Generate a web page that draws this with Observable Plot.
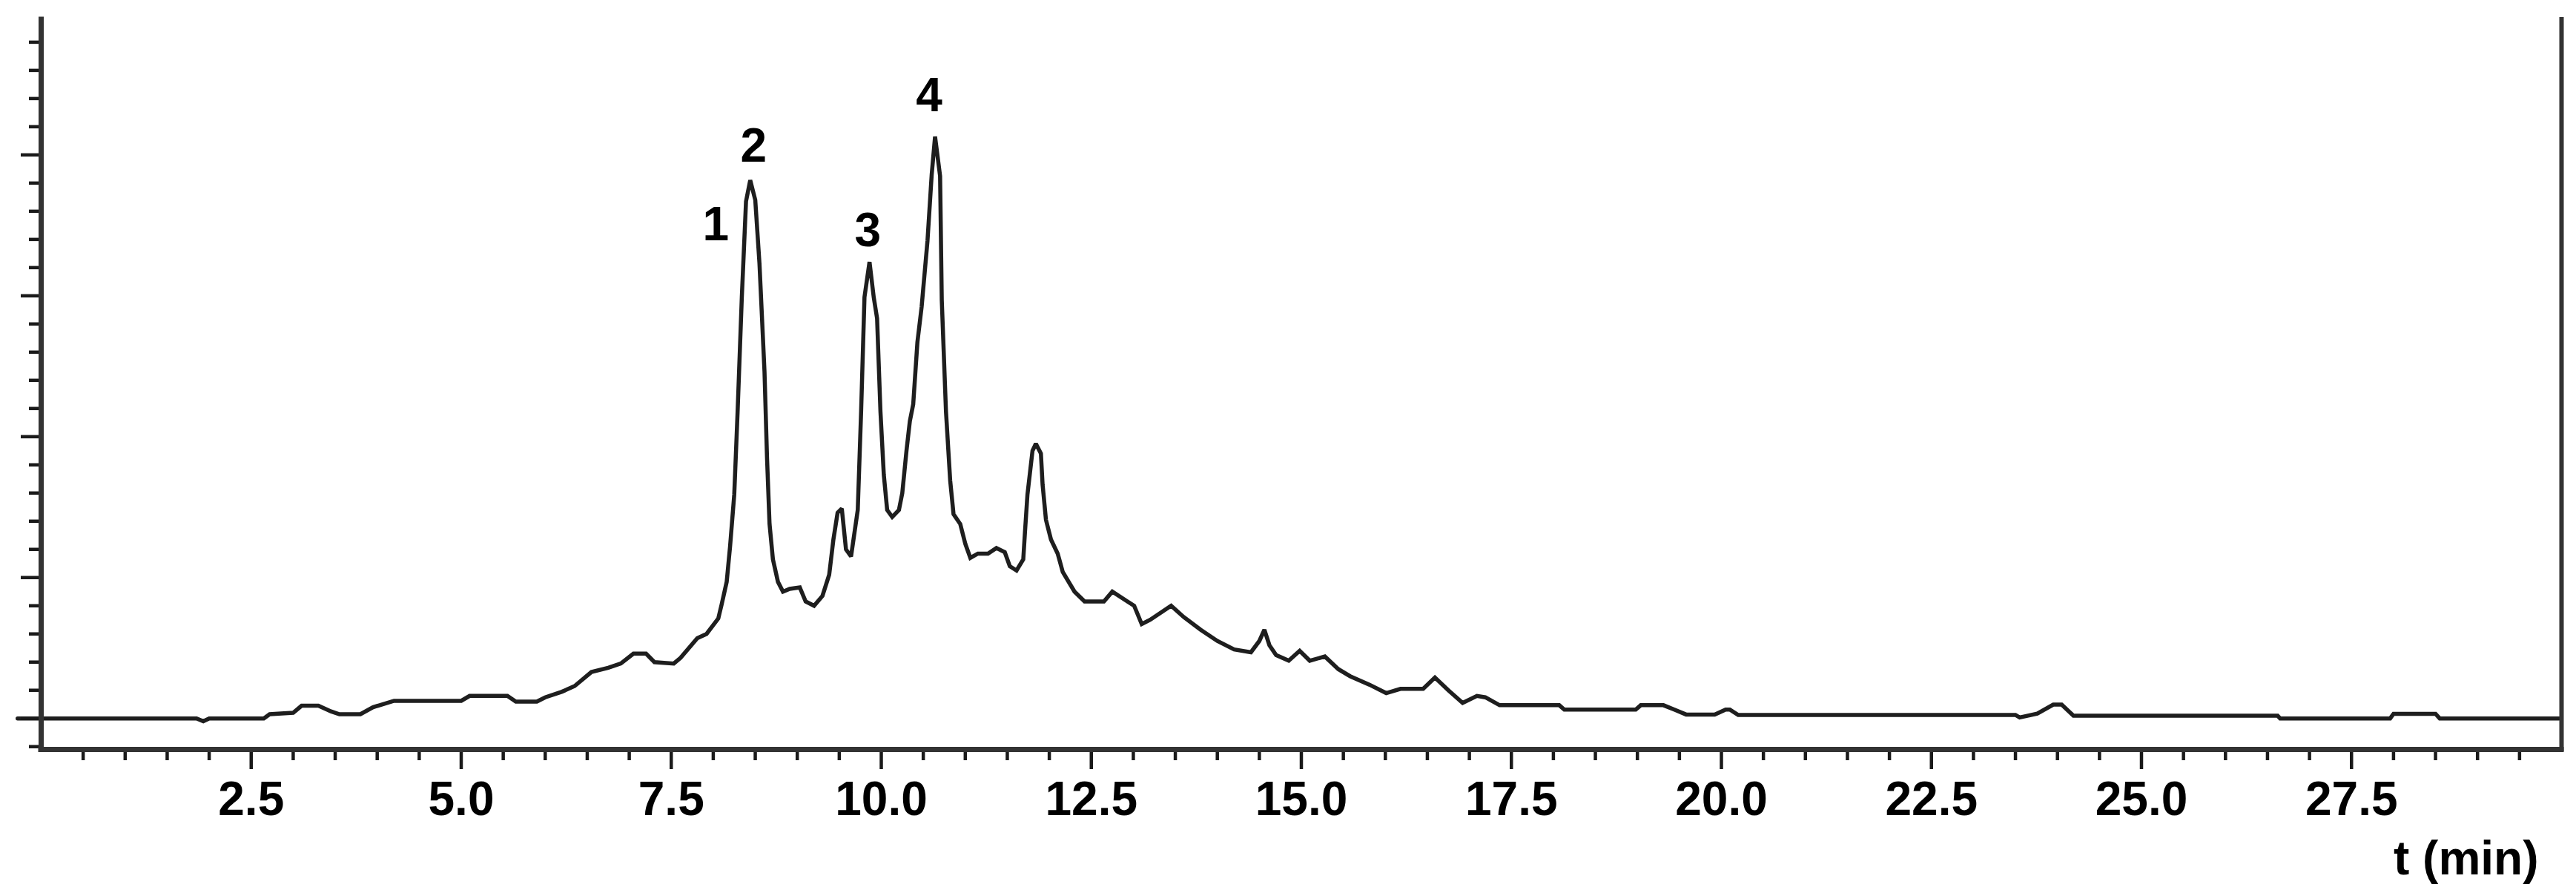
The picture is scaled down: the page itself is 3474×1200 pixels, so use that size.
<!DOCTYPE html>
<html>
<head>
<meta charset="utf-8">
<script src="https://cdn.jsdelivr.net/npm/d3@7"></script>
<script src="https://cdn.jsdelivr.net/npm/@observablehq/plot@0.6"></script>
<style>
  html, body { margin: 0; padding: 0; background: #fff; }
  #chart svg { display: block; }
</style>
</head>
<body>
<div id="chart"></div>
<script>
// Retention time (min) and detector signal (arbitrary units)
const times = [
  -0.28, 1.85, 1.93, 2.0, 2.65, 2.72, 3.0, 3.1, 3.3, 3.45, 3.55, 3.8, 3.95, 4.2, 5.0, 5.1, 5.55, 5.65, 5.9, 6.0,
  6.2, 6.35, 6.55, 6.75, 6.9, 7.05, 7.2, 7.3, 7.53, 7.61, 7.81, 7.92, 8.06, 8.1, 8.16, 8.2, 8.25, 8.29, 8.34, 8.39,
  8.44, 8.5, 8.55, 8.61, 8.64, 8.67, 8.71, 8.77, 8.83, 8.91, 9.03, 9.1, 9.2, 9.3, 9.38, 9.43, 9.48, 9.53, 9.58, 9.64,
  9.72, 9.76, 9.8, 9.86, 9.91, 9.95, 9.99, 10.03, 10.07, 10.13, 10.21, 10.25, 10.3, 10.34, 10.38, 10.43, 10.48, 10.55, 10.6, 10.64,
  10.7, 10.72, 10.77, 10.82, 10.86, 10.94, 11.0, 11.06, 11.15, 11.27, 11.37, 11.47, 11.53, 11.61, 11.69, 11.71, 11.74, 11.8, 11.84, 11.9,
  11.92, 11.96, 12.02, 12.1, 12.16, 12.3, 12.42, 12.65, 12.75, 12.93, 13.01, 13.1, 13.2, 13.45, 13.6, 13.8, 14.0, 14.2, 14.4, 14.5,
  14.56, 14.62, 14.7, 14.85, 14.98, 15.1, 15.28, 15.44, 15.58, 15.81, 16.01, 16.18, 16.45, 16.59, 16.75, 16.92, 17.09, 17.19, 17.36, 18.07,
  18.13, 18.98, 19.04, 19.31, 19.45, 19.58, 19.92, 20.05, 20.1, 20.2, 23.5, 23.55, 23.76, 23.95, 24.05, 24.19, 26.62, 26.65, 27.96, 28.0,
  28.5, 28.55, 29.97
];
const signal = [
  0, 0, -0.02, 0, 0, 0.03, 0.04, 0.09, 0.09, 0.05, 0.03, 0.03, 0.08, 0.125, 0.125, 0.16, 0.16, 0.12, 0.12, 0.15,
  0.19, 0.23, 0.33, 0.36, 0.39, 0.46, 0.46, 0.40, 0.39, 0.43, 0.57, 0.60, 0.71, 0.81, 0.97, 1.22, 1.59, 2.18, 2.99, 3.67,
  3.82, 3.68, 3.23, 2.46, 1.85, 1.38, 1.13, 0.97, 0.90, 0.92, 0.93, 0.83, 0.80, 0.87, 1.02, 1.27, 1.46, 1.49, 1.20, 1.15,
  1.48, 2.18, 2.99, 3.24, 2.99, 2.84, 2.18, 1.73, 1.48, 1.43, 1.48, 1.60, 1.90, 2.11, 2.23, 2.67, 2.92, 3.39, 3.86, 4.13,
  3.85, 2.97, 2.18, 1.69, 1.45, 1.38, 1.24, 1.14, 1.17, 1.17, 1.21, 1.18, 1.08, 1.05, 1.13, 1.32, 1.59, 1.90, 1.95, 1.88,
  1.66, 1.41, 1.27, 1.17, 1.04, 0.90, 0.83, 0.83, 0.90, 0.83, 0.80, 0.67, 0.70, 0.80, 0.72, 0.63, 0.55, 0.49, 0.47, 0.55,
  0.63, 0.52, 0.45, 0.41, 0.48, 0.41, 0.44, 0.35, 0.30, 0.24, 0.18, 0.21, 0.21, 0.29, 0.20, 0.11, 0.16, 0.15, 0.094, 0.094,
  0.063, 0.063, 0.094, 0.094, 0.06, 0.028, 0.028, 0.063, 0.063, 0.025, 0.025, 0.007, 0.035, 0.098, 0.098, 0.02, 0.02, 0, 0, 0.033,
  0.033, 0, 0
];

// Peak annotations
const peakNames = ["1", "2", "3", "4"];
const peakLabelTimes = [8.03, 8.48, 9.84, 10.57];
const peakLabelLevels = [3.50, 4.06, 3.46, 4.42];

// Axis ticks
const xDomain = [0, 30];
const yDomain = [-0.22, 4.96];
const xMajorTicks = [2.5, 5.0, 7.5, 10.0, 12.5, 15.0, 17.5, 20.0, 22.5, 25.0, 27.5];
const xMinorTicks = d3.range(1, 60).map(i => i / 2).filter(v => v % 2.5 !== 0);
const yMajorTicks = [0, 1, 2, 3, 4];
const yMinorTicks = d3.range(-1, 25).map(i => i / 5).filter((v, i) => (i - 1) % 5 !== 0);
const xLabel = "t (min)";

const trace = times.map((t, i) => ({t, v: signal[i]}));
const peaks = peakNames.map((name, i) => ({name, t: peakLabelTimes[i], v: peakLabelLevels[i]}));

const FONT = "'Liberation Sans', Arial, Helvetica, sans-serif";
const AXIS = "#333";
const TICK = "#1a1a1a";

const chart = Plot.plot({
  width: 3474,
  height: 1200,
  marginLeft: 55,
  marginRight: 20,
  marginTop: 26,
  marginBottom: 190,
  style: {background: "#fff", fontFamily: FONT, fontWeight: "bold", fontSize: "64px", color: "#000", overflow: "visible"},
  x: {domain: xDomain},
  y: {domain: yDomain},
  marks: [
    // data trace
    Plot.line(trace, {x: "t", y: "v", stroke: "#1e1e1e", strokeWidth: 5.5, strokeLinejoin: "miter", strokeMiterlimit: 2}),
    // y axis ticks (no labels)
    Plot.axisY(yMinorTicks, {anchor: "left", tickSize: 16, stroke: TICK, strokeWidth: 4.5, fill: "none", label: null}),
    Plot.axisY(yMajorTicks, {anchor: "left", tickSize: 27, stroke: TICK, strokeWidth: 4.5, fill: "none", label: null}),
    // x axis ticks
    Plot.axisX(xMinorTicks, {anchor: "bottom", tickSize: 15, stroke: TICK, strokeWidth: 4.5, fill: "none", label: null}),
    Plot.axisX(xMajorTicks, {anchor: "bottom", tickSize: 27, tickPadding: 16, stroke: TICK, strokeWidth: 4.5,
      fill: "#000", fontSize: 64, fontWeight: "bold", tickFormat: d => d.toFixed(1), label: null}),
    // axis lines and right border
    Plot.ruleY([yDomain[0]], {stroke: AXIS, strokeWidth: 7, strokeLinecap: "square"}),
    Plot.ruleX([xDomain[0]], {stroke: AXIS, strokeWidth: 7, strokeLinecap: "square"}),
    Plot.ruleX([xDomain[1]], {stroke: AXIS, strokeWidth: 6, strokeLinecap: "square"}),
    // peak labels
    Plot.text(peaks, {x: "t", y: "v", text: "name", fill: "#000", fontSize: 64, fontWeight: "bold", lineAnchor: "middle"}),
    // x-axis title
    Plot.text([xLabel], {frameAnchor: "bottom-right", text: d => d, textAnchor: "end", lineAnchor: "bottom",
      dx: -31, dy: 168, fill: "#000", fontSize: 64, fontWeight: "bold"})
  ]
});

document.getElementById("chart").appendChild(chart);
</script>
</body>
</html>
